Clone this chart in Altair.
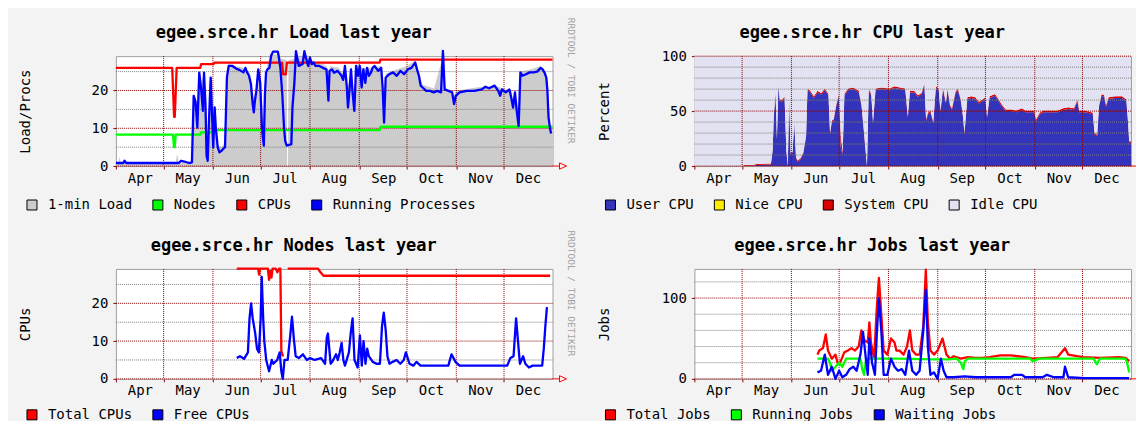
import json
import altair as alt
import pandas as pd

FONT = "DejaVu Sans Mono"
W, H = 437, 110
X_END = 274.5
MONTH_STARTS = [0, 30, 61, 91, 122, 153, 183, 214, 244]
MONTH_NAMES = ["Apr", "May", "Jun", "Jul", "Aug", "Sep", "Oct", "Nov", "Dec"]
MONTH_GRID = [30, 61, 91, 122, 153, 183, 214, 244]
MAJ_C = "#8c0000"
MIN_C = "#808080"
ARROW = "M-1,0H0M0,-0.45L1,0L0,0.45Z"

# ---------------- Load panel ----------------
LOAD_NAMES = ["1-min Load", "Nodes", "CPUs", "Running Processes"]
LOAD_COLORS = ["#cccccc", "#00ff00", "#ff0000", "#0000ff"]
LOAD_Y_MAJOR = [0, 10, 20]
LOAD_Y_MINOR = [5, 15, 25]
LOAD_DAYS = [0, 1.5, 2.2, 3.0, 20, 37.5, 38.5, 39.5, 47.5, 48.5, 49.5, 51.0, 52.4, 53.5, 55.4, 56.5, 57.5,
             59.6, 61.0, 62.1, 63.5, 66.0, 68.6, 69.8, 71.0, 75.0, 80.0, 84.0, 85.5, 86.7, 88.3, 89.5,
             91.0, 92.5, 93.7, 95.0, 97.0, 98.8, 102.0, 104.0, 107.4, 107.7, 108.2, 108.5, 113.0, 118.5,
             122.0, 125.0, 130.0, 132.4, 133.6, 134.5, 140.0, 142.9, 145.5, 146.5, 148.0, 149.9, 151.0,
             155.0, 160.0, 166.8, 168.6, 169.8, 176.0, 183.0, 188.2, 190.5, 192.8, 200.0, 205.6, 206.7,
             212.6, 214.0, 230.0, 240.0, 248.5, 249.7, 252.0, 253.2, 254.3, 260.0, 267.1, 270.6, 272.0,
             273.0, 274.5]
LOAD_VALS = [0.8, 0.8, 2.5, 0.8, 0.8, 0.8, 3.2, 1.0, 1.0, 12.0, 19.5, 14.0, 25.0, 21.5, 25.0, 12.0, 4.0,
             23.8, 8.0, 16.0, 6.0, 5.0, 6.0, 24.0, 27.0, 26.5, 26.0, 24.5, 20.0, 18.0, 21.0, 26.0,
             23.0, 12.0, 20.0, 26.5, 29.3, 29.5, 29.5, 28.5, 28.0, 0.0, 0.0, 28.0, 28.5, 29.0,
             28.5, 27.5, 27.0, 26.5, 21.0, 26.5, 26.0, 24.5, 22.0, 21.5, 26.5, 18.0, 27.0,
             26.0, 26.0, 26.5, 16.0, 24.5, 25.5, 26.5, 28.0, 25.0, 21.5, 20.5, 29.0, 21.0,
             18.5, 20.0, 21.0, 21.0, 20.0, 17.0, 17.5, 14.0, 25.0, 25.5, 26.5, 24.5, 15.0,
             11.0, 9.0]
NODES_DAYS = [0, 35.9, 36.5, 37.0, 37.6, 53.0, 53.6, 61.5, 62.0, 165.8, 166.3, 274.5]
NODES_VALS = [8.3, 8.3, 5.0, 5.0, 8.3, 8.3, 8.9, 8.9, 9.5, 9.5, 10.4, 10.4]
CPUS_DAYS = [0, 35.4, 36.0, 36.6, 37.0, 37.6, 38.2, 53.0, 53.6, 61.5, 62.0, 104.4, 105.2, 106.8, 107.5,
             165.8, 166.3, 274.5]
CPUS_VALS = [26.0, 26.0, 19.5, 13.0, 13.0, 19.5, 26.0, 26.0, 27.0, 27.0, 27.4, 27.4, 24.3, 24.3, 27.4,
             27.4, 28.2, 28.2]
RUN_DAYS = [0, 4.5, 5.4, 6.5, 39.5, 41.0, 43.0, 46.0, 47.8, 48.9, 50.1, 51.2, 52.4, 53.5, 54.7, 55.4,
            56.3, 57.0, 57.7, 58.6, 59.6, 60.5, 61.2, 62.1, 62.8, 64.0, 65.1, 66.3, 67.4, 68.6, 69.8,
            70.9, 73.3, 75.6, 77.9, 80.2, 81.4, 82.5, 83.7, 84.9, 86.0, 86.7, 87.4, 88.3, 89.5, 90.7,
            91.8, 93.0, 93.7, 94.4, 95.3, 96.5, 97.6, 98.8, 101.8, 102.3, 103.4, 104.6, 105.7, 106.4,
            107.4, 110.3, 111.0, 112.2, 113.2, 115.0, 117.4, 118.5, 119.7, 120.9, 122.0, 123.2, 124.3,
            125.5, 127.8, 130.1, 132.4, 133.6, 134.3, 135.9, 137.1, 139.4, 141.7, 142.9, 144.0, 145.2,
            145.9, 146.8, 147.8, 148.7, 149.9, 151.0, 152.2, 153.3, 154.5, 155.6, 156.8, 157.9, 159.1,
            160.3, 161.4, 162.6, 164.9, 166.8, 167.7, 168.6, 169.6, 170.7, 171.9, 174.2, 176.6, 178.9,
            181.2, 183.5, 185.8, 188.2, 189.3, 190.5, 191.6, 192.8, 195.1, 197.5, 199.8, 202.1, 204.4,
            205.6, 206.7, 209.1, 211.4, 212.6, 213.7, 216.0, 220.7, 225.3, 230.0, 232.3, 234.6, 238.1,
            240.4, 241.6, 242.7, 245.1, 247.4, 248.5, 249.7, 250.9, 252.0, 253.2, 254.3, 255.5, 257.8,
            260.1, 262.5, 264.8, 267.1, 268.3, 269.4, 270.6, 271.3, 272.0, 273.0, 273.6]
RUN_VALS = [0.8, 0.8, 1.4, 0.8, 0.8, 1.4, 1.2, 0.8, 1.0, 18.6, 17.0, 10.2, 24.7, 20.8, 14.6, 24.7,
            16.4, 2.7, 1.4, 12.9, 23.4, 12.9, 4.9, 15.5, 10.2, 5.0, 3.6, 4.0, 4.5, 5.0, 23.5,
            26.5, 26.5, 25.8, 25.4, 24.8, 26.0, 24.8, 23.9, 21.7, 16.4, 14.2, 17.3, 19.9, 25.6, 22.1,
            10.2, 5.4, 19.0, 24.8, 25.6, 26.0, 29.2, 30.3, 30.3, 29.2, 26.0, 19.0, 10.2, 6.7,
            5.4, 5.8, 15.5, 22.0, 30.4, 26.5, 27.0, 30.4, 28.3, 26.5, 28.7, 27.0, 27.4,
            26.5, 26.5, 26.0, 25.6, 17.3, 25.2, 25.6, 24.7, 25.2, 24.0, 22.8, 26.5, 20.8,
            15.5, 19.9, 25.6, 19.9, 14.6, 26.5, 23.9, 26.5, 20.8, 25.6, 22.0, 26.0, 23.9,
            24.7, 26.0, 26.5, 25.2, 26.0, 20.8, 11.5, 23.4, 23.9, 24.3, 24.8, 23.9, 25.2,
            24.3, 25.6, 26.0, 27.4, 25.6, 23.9, 21.3, 20.8, 19.9, 19.9, 19.5, 19.9, 19.5,
            30.5, 20.3, 19.9, 19.5, 16.4, 18.6, 19.5, 19.9, 19.9, 20.3, 21.0, 20.6, 21.3,
            19.9, 18.6, 20.3, 19.5, 20.3, 18.2, 15.5, 19.5, 14.6, 10.6, 24.8, 23.9, 24.3,
            24.8, 24.8, 25.0, 26.0, 25.6, 24.8, 23.4, 19.9, 12.9, 9.8, 8.6]

# ---------------- CPU panel ----------------
CPU_NAMES = ["User CPU", "Nice CPU", "System CPU", "Idle CPU"]
CPU_COLORS = ["#3333bb", "#ffea00", "#dd0000", "#e2e2f2"]
CPU_Y_MAJOR = [0, 50, 100]
CPU_Y_MINOR = [10, 20, 30, 40, 60, 70, 80, 90]
CPU_DAYS = [0, 30.0, 31.2, 36.8, 39.1, 48.1, 49.2, 49.9, 51.0, 51.9,
            52.8, 53.7, 55.3, 56.7, 57.8, 58.7, 59.6, 60.5, 61.7, 62.8,
            63.9, 65.0, 66.6, 68.4, 70.2, 71.1, 72.9, 75.1, 77.4, 79.7,
            82.0, 84.3, 85.3, 86.4, 87.5, 89.1, 90.9, 92.0, 93.2, 94.3,
            96.6, 99.9, 103.4, 105.1, 106.7, 107.8, 108.5, 109.6, 111.2, 112.3,
            113.9, 118.0, 122.5, 125.9, 129.3, 132.6, 134.2, 135.5, 138.2, 140.5,
            142.8, 144.6, 145.7, 146.8, 148.4, 150.2, 151.8, 153.6, 154.7, 156.3,
            158.1, 159.2, 160.8, 161.9, 164.1, 165.7, 167.5, 168.9, 169.8, 171.6,
            174.3, 176.6, 178.9, 181.1, 182.9, 184.0, 185.6, 189.0, 191.3, 193.5,
            195.8, 199.2, 202.5, 205.9, 208.1, 211.5, 213.7, 214.8, 217.1, 219.3,
            223.9, 228.4, 231.8, 235.2, 238.6, 240.8, 242.0, 245.4, 248.8, 250.5,
            251.6, 253.2, 254.4, 256.0, 257.7, 258.8, 260.4, 264.4, 268.9, 271.6,
            272.5, 273.4, 274.5]
CPU_USER = [0, 0, 0.3, 0.3, 1.0, 1.5, 14, 44, 66, 24,
            73, 59, 59, 62, 14, 0, 61, 11, 12, 39,
            7, 4, 6, 11, 26, 69, 67, 62, 67, 65,
            69, 64, 29, 40, 41, 54, 64, 17, 11, 64,
            69, 70, 67, 54, 29, 11, 0, 69, 64, 39,
            69, 70, 69, 71, 70, 69, 44, 67, 67, 63,
            65, 74, 41, 47, 49, 39, 71, 69, 49, 70,
            57, 69, 54, 51, 66, 69, 59, 44, 29, 61,
            62, 61, 57, 59, 61, 44, 62, 64, 59, 54,
            50, 50, 49, 51, 49, 49, 49, 41, 47, 49,
            49, 49, 51, 52, 51, 59, 49, 49, 48, 47,
            29, 27, 54, 64, 63, 54, 61, 62, 62, 59,
            42, 21, 21]
CPU_SYS = [0, 0, 0.6, 0.6, 0.8, 0.8, 1.0, 1.5, 1.5, 1.0,
           1.5, 1.5, 1.5, 1.5, 1.0, 0, 1.5, 1.0, 1.0, 1.5,
           1.0, 1.0, 1.0, 1.0, 1.5, 1.5, 1.5, 1.5, 1.5, 1.5,
           1.5, 1.5, 1.5, 1.5, 1.5, 1.5, 1.5, 12.0, 1.5, 1.5,
           1.5, 1.5, 1.5, 1.5, 1.5, 1.5, 0, 1.5, 1.5, 1.5,
           1.5, 1.5, 1.5, 1.5, 1.5, 1.5, 1.5, 1.5, 1.5, 1.5,
           1.5, 1.5, 1.5, 1.5, 1.5, 1.5, 1.5, 1.5, 1.5, 1.5,
           1.5, 1.5, 1.5, 1.5, 1.5, 1.5, 1.5, 1.5, 1.5, 1.5,
           1.5, 1.5, 1.5, 1.5, 1.5, 1.5, 1.5, 1.5, 1.5, 1.5,
           1.5, 1.5, 1.5, 1.5, 1.5, 1.5, 1.5, 1.5, 1.5, 1.5,
           1.5, 1.5, 1.5, 1.5, 1.5, 1.5, 1.5, 1.5, 1.5, 1.5,
           1.5, 1.5, 1.5, 1.5, 1.5, 1.5, 1.5, 1.5, 1.5, 1.5,
           1.5, 1.5, 1.5]

# ---------------- Nodes panel ----------------
NODE_NAMES = ["Total CPUs", "Free CPUs"]
NODE_COLORS = ["#ff0000", "#0000ff"]
TOTAL_A_DAYS = [76.0, 89.4, 90.0, 90.6, 95.5, 96.3, 97.0, 97.8, 98.5, 100.5, 101.5, 102.5, 103.4, 104.0,
                104.8, 105.6]
TOTAL_A_VALS = [29.2, 29.2, 27.6, 29.2, 29.2, 26.2, 28.6, 26.8, 29.2, 29.2, 28.2, 29.2, 29.2, 7.5,
                6.2, 6.2]
TOTAL_B_DAYS = [108.0, 127.0, 128.5, 130.5, 273.0]
TOTAL_B_VALS = [29.2, 29.2, 28.3, 27.3, 27.3]
FREE_DAYS = [76.0, 78.0, 80.6, 83.0, 84.0, 85.0, 86.0, 87.6, 88.7, 89.9,
             91.0, 91.7, 92.6, 93.3, 94.5, 96.3, 98.0, 99.0, 101.4, 103.0,
             104.0, 104.9, 106.0, 108.0, 109.5, 110.7, 111.8, 113.0, 115.0, 117.6,
             120.0, 122.0, 125.0, 129.0, 131.5, 132.6, 133.3, 135.0, 136.0, 138.4,
             139.5, 140.7, 141.9, 143.0, 144.0, 146.5, 147.6, 148.8, 150.0, 152.0,
             153.4, 154.6, 155.7, 156.9, 158.0, 159.0, 161.5, 163.8, 166.0, 167.3,
             168.4, 169.6, 170.7, 172.0, 174.0, 176.5, 178.8, 181.0, 182.3, 184.6,
             187.0, 189.0, 191.5, 209.0, 211.0, 213.5, 216.0, 246.0, 248.0, 250.0,
             251.6, 252.8, 254.0, 256.0, 257.4, 259.7, 262.0, 268.0, 269.0, 270.0, 271.0]
FREE_VALS = [5.5, 6.0, 5.3, 7.0, 16.0, 20.0, 16.0, 12.0, 8.0, 7.0,
             16.0, 27.0, 16.0, 10.0, 5.0, 2.0, 5.0, 4.0, 5.0, 7.0,
             2.0, 0.0, 5.0, 5.0, 11.0, 16.5, 11.0, 6.0, 5.5, 6.5,
             5.0, 5.5, 5.0, 5.5, 4.0, 11.0, 12.0, 4.0, 4.5, 6.5,
             5.0, 7.0, 9.5, 5.0, 3.5, 7.0, 12.0, 16.0, 5.0, 3.0,
             11.5, 3.5, 10.0, 4.0, 8.0, 6.0, 4.5, 4.0, 4.0, 14.0,
             17.5, 13.0, 6.0, 4.0, 4.5, 5.0, 4.0, 5.0, 7.0, 4.0,
             3.5, 4.5, 3.5, 3.5, 6.5, 4.5, 3.5, 3.5, 5.5, 6.0,
             16.0, 10.0, 4.0, 6.0, 4.0, 3.0, 3.5, 3.5, 8.0, 14.0, 19.0]

# ---------------- Jobs panel ----------------
JOB_NAMES = ["Total Jobs", "Running Jobs", "Waiting Jobs"]
JOB_COLORS = ["#ff0000", "#00ff00", "#0000ff"]
JOB_Y_MAJOR = [0, 100]
JOB_Y_MINOR = [20, 40, 60, 80, 120]
TJ_DAYS = [77.4, 78.5, 80.8, 82.6, 84.0, 86.4, 88.7, 90.0, 91.0, 92.0,
           94.3, 96.5, 98.8, 101.0, 103.3, 105.0, 106.7, 109.0, 110.0, 111.0,
           113.0, 114.6, 116.0, 117.5, 119.0, 121.3, 123.6, 125.8, 127.0, 129.0,
           131.5, 133.7, 135.5, 137.0, 139.4, 141.6, 143.9, 145.5, 146.8, 148.4,
           150.6, 152.9, 156.0, 158.5, 160.8, 163.0, 167.5, 172.0, 176.5, 181.0,
           185.6, 192.3, 199.0, 208.0, 212.6, 221.6, 228.4, 233.0, 235.0, 244.0,
           255.4, 266.7, 271.0, 273.4]
TJ_VALS = [30, 35, 38, 55, 35, 25, 30, 20, 18, 22,
           33, 35, 38, 35, 40, 60, 48, 45, 70, 45,
           25, 85, 125, 80, 35, 30, 50, 45, 35, 35,
           30, 40, 60, 35, 30, 30, 65, 135, 70, 35,
           30, 35, 50, 30, 25, 28, 25, 27, 26, 26,
           27, 29, 29, 27, 25, 26, 27, 38, 30, 27,
           26, 27, 26, 22]
RJ_DAYS = [77.4, 84.0, 85.3, 86.4, 88.7, 91.0, 93.0, 95.4, 104.4, 105.5,
           106.7, 108.0, 127.0, 150.0, 160.0, 165.0, 167.5, 169.0, 170.0, 172.0,
           211.0, 212.6, 217.0, 251.0, 253.0, 255.0, 271.0, 272.0, 273.4]
RJ_VALS = [25, 25, 20, 10, 15, 20, 15, 25, 25, 12,
           5, 25, 25, 24, 24, 25, 20, 12, 22, 25,
           25, 22, 25, 25, 18, 25, 25, 20, 8]
WJ_DAYS = [77.4, 79.6, 82.0, 84.0, 86.4, 88.7, 91.0, 93.0, 95.4, 97.6,
           99.9, 102.0, 104.4, 106.0, 107.8, 109.0, 110.0, 111.7, 113.5, 114.8,
           116.0, 117.5, 119.0, 121.3, 123.6, 125.8, 128.0, 130.4, 132.6, 134.9,
           137.0, 139.4, 141.6, 143.9, 145.5, 146.8, 148.4, 150.6, 152.9, 155.0,
           156.7, 158.5, 163.0, 170.0, 176.5, 181.0, 199.0, 201.0, 206.0, 208.0,
           219.0, 221.6, 226.0, 232.0, 233.0, 235.0, 245.0, 273.4]
WJ_VALS = [8, 10, 30, 5, 15, 0, 10, 2, 5, 12,
           15, 10, 30, 58, 25, 5, 50, 20, 5, 60,
           100, 60, 5, 5, 25, 15, 10, 12, 5, 35,
           10, 5, 10, 60, 110, 40, 5, 8, 0, 25,
           10, 2, 2, 3, 2, 2, 2, 5, 5, 2,
           2, 5, 2, 2, 15, 2, 1, 1]


def sdf(name, days, vals, seg=0):
    return pd.DataFrame({"day": days, "value": vals, "series": name, "seg": seg})


LABEL_EXPR = f"{json.dumps(MONTH_NAMES)}[indexof({json.dumps(MONTH_STARTS)}, datum.value)]"


def panel(title, ytitle, ymax, ymajor, yminor, names, colors, areas, lines, rrd, leg_y):
    xs = alt.Scale(domain=[0, X_END], nice=False, zero=False)
    ys = alt.Scale(domain=[0, ymax], nice=False, zero=True)
    cs = alt.Scale(domain=names, range=colors)

    top_axis = alt.Axis(orient="top", labels=False, ticks=False, domain=False, grid=False,
                        title=title, titleFont=FONT, titleFontSize=17, titleFontWeight="bold",
                        titleColor="black", titleX=W / 2 - 41, titleY=-23.5, titleAlign="center",
                        titleBaseline="middle", titleAngle=0)
    if rrd:
        right_axis = alt.Axis(orient="right", labels=False, ticks=False, domain=False, grid=False,
                              title="RRDTOOL / TOBI OETIKER", titleFont=FONT, titleFontSize=9.5,
                              titleFontWeight="normal", titleColor="#a0a0a0", titleAngle=90,
                              titleX=18, titleY=24, titleAlign="center", titleBaseline="middle")
    else:
        right_axis = None
    x_axis = alt.Axis(orient="bottom", values=MONTH_STARTS, labelExpr=LABEL_EXPR, labelOffset=24,
                      labelFlush=False, labelOverlap=False, labelBound=False, labelPadding=2,
                      tickSize=3, tickColor=MAJ_C, domain=False, grid=False, title=None,
                      labelFont=FONT, labelFontSize=14, labelColor="black")
    y_axis = alt.Axis(orient="left", values=ymajor, labelFlush=False, labelOverlap=False,
                      tickSize=3, tickColor=MAJ_C, labelPadding=5, domain=False, grid=False,
                      title=ytitle, titleX=-90, titleBaseline="middle", titleFont=FONT,
                      titleFontSize=14, titleFontWeight="normal", titleColor="black",
                      labelFont=FONT, labelFontSize=14, labelColor="black")
    legend = alt.Legend(orient="none", legendX=-91, legendY=leg_y, direction="horizontal",
                        columns=len(names), title=None, symbolType="square", symbolSize=100,
                        symbolStrokeColor="black", symbolStrokeWidth=1, symbolOpacity=1,
                        labelFont=FONT, labelFontSize=14, labelColor="black", labelOffset=9,
                        columnPadding=18, padding=0, offset=0)

    leg_df = pd.DataFrame({"series": names, "day": [0.0] * len(names), "value": [0.0] * len(names)})
    layers = [
        alt.Chart(leg_df).mark_square(opacity=0).encode(
            x=alt.X("day:Q", scale=xs, axis=top_axis),
            y=alt.Y("value:Q", scale=ys, axis=right_axis),
            color=alt.Color("series:N", scale=cs, legend=legend),
        )
    ]
    for a in areas:
        layers.append(a(xs, ys, cs))
    layers.append(
        alt.Chart(pd.DataFrame({"value": yminor})).mark_rule(
            color=MIN_C, strokeDash=[1, 1], strokeWidth=1).encode(
            y=alt.Y("value:Q", scale=ys, axis=y_axis))
    )
    layers.append(
        alt.Chart(pd.DataFrame({"value": ymajor})).mark_rule(
            color=MAJ_C, strokeDash=[1, 1], strokeWidth=1).encode(
            y=alt.Y("value:Q", scale=ys, axis=None))
    )
    layers.append(
        alt.Chart(pd.DataFrame({"day": MONTH_GRID})).mark_rule(
            color=MAJ_C, strokeDash=[1, 1], strokeWidth=1).encode(
            x=alt.X("day:Q", scale=xs, axis=x_axis))
    )
    for df, col in lines:
        layers.append(
            alt.Chart(df).mark_line(strokeWidth=2.3, strokeJoin="round", interpolate="linear",
                                    color=col).encode(
                x=alt.X("day:Q", scale=xs, axis=None),
                y=alt.Y("value:Q", scale=ys, axis=None),
                detail="seg:N",
            )
        )
    layers.append(
        alt.Chart(pd.DataFrame({"day": [X_END], "value": [0]})).mark_point(
            shape=ARROW, filled=False, size=196, color="#ff0000", strokeWidth=1, opacity=1,
            xOffset=7).encode(
            x=alt.X("day:Q", scale=xs, axis=None),
            y=alt.Y("value:Q", scale=ys, axis=None))
    )
    return alt.layer(*layers).resolve_axis(x="independent", y="independent").properties(
        width=W, height=H)


def load_area(xs, ys, cs):
    return alt.Chart(sdf(LOAD_NAMES[0], LOAD_DAYS, LOAD_VALS)).mark_area(interpolate="linear").encode(
        x=alt.X("day:Q", scale=xs, axis=None),
        y=alt.Y("value:Q", scale=ys, axis=None),
        color=alt.Color("series:N", scale=cs, legend=None),
    )


def cpu_area(xs, ys, cs):
    cpu_df = pd.DataFrame({"day": CPU_DAYS, CPU_NAMES[0]: CPU_USER, CPU_NAMES[2]: CPU_SYS})
    idle_expr = f"100 - datum['{CPU_NAMES[0]}'] - datum['{CPU_NAMES[2]}']"
    order_expr = f"indexof({json.dumps(CPU_NAMES)}, datum.series)"
    return alt.Chart(cpu_df).transform_calculate(
        **{CPU_NAMES[3]: idle_expr}
    ).transform_fold(
        [CPU_NAMES[0], CPU_NAMES[2], CPU_NAMES[3]], as_=["series", "value"]
    ).transform_calculate(ord=order_expr).mark_area(interpolate="linear").encode(
        x=alt.X("day:Q", scale=xs, axis=None),
        y=alt.Y("value:Q", scale=ys, axis=None, stack="zero"),
        color=alt.Color("series:N", scale=cs, legend=None),
        order=alt.Order("ord:Q"),
    )


p_load = panel("egee.srce.hr Load last year", "Load/Procs", 29.1, LOAD_Y_MAJOR, LOAD_Y_MINOR,
               LOAD_NAMES, LOAD_COLORS, [load_area],
               [(sdf(LOAD_NAMES[1], NODES_DAYS, NODES_VALS), LOAD_COLORS[1]),
                (sdf(LOAD_NAMES[2], CPUS_DAYS, CPUS_VALS), LOAD_COLORS[2]),
                (sdf(LOAD_NAMES[3], RUN_DAYS, RUN_VALS), LOAD_COLORS[3])], True, 142)
p_cpu = panel("egee.srce.hr CPU last year", "Percent", 100, CPU_Y_MAJOR, CPU_Y_MINOR,
              CPU_NAMES, CPU_COLORS, [cpu_area], [], False, 142)
p_nodes = panel("egee.srce.hr Nodes last year", "CPUs", 29.1, LOAD_Y_MAJOR, LOAD_Y_MINOR,
                NODE_NAMES, NODE_COLORS, [],
                [(pd.concat([sdf(NODE_NAMES[0], TOTAL_A_DAYS, TOTAL_A_VALS, 0),
                             sdf(NODE_NAMES[0], TOTAL_B_DAYS, TOTAL_B_VALS, 1)]), NODE_COLORS[0]),
                 (sdf(NODE_NAMES[1], FREE_DAYS, FREE_VALS), NODE_COLORS[1])], True, 139)
p_jobs = panel("egee.srce.hr Jobs last year", "Jobs", 136, JOB_Y_MAJOR, JOB_Y_MINOR,
               JOB_NAMES, JOB_COLORS, [],
               [(sdf(JOB_NAMES[0], TJ_DAYS, TJ_VALS), JOB_COLORS[0]),
                (sdf(JOB_NAMES[1], RJ_DAYS, RJ_VALS), JOB_COLORS[1]),
                (sdf(JOB_NAMES[2], WJ_DAYS, WJ_VALS), JOB_COLORS[2])], False, 139)

chart = alt.concat(
    p_load, p_cpu, p_nodes, p_jobs, columns=2,
    spacing=alt.RowColnumber(row=103, column=142), bounds="flush",
).resolve_scale(
    x="independent", y="independent", color="independent"
).properties(
    padding={"left": 10, "top": 8, "right": -12, "bottom": -2},
    background="#f3f3f3",
).configure(font=FONT).configure_view(
    stroke="#a0a0a0", strokeWidth=1, fill="white"
)

chart.save("out.html", embed_options={"renderer": "svg", "actions": False})
